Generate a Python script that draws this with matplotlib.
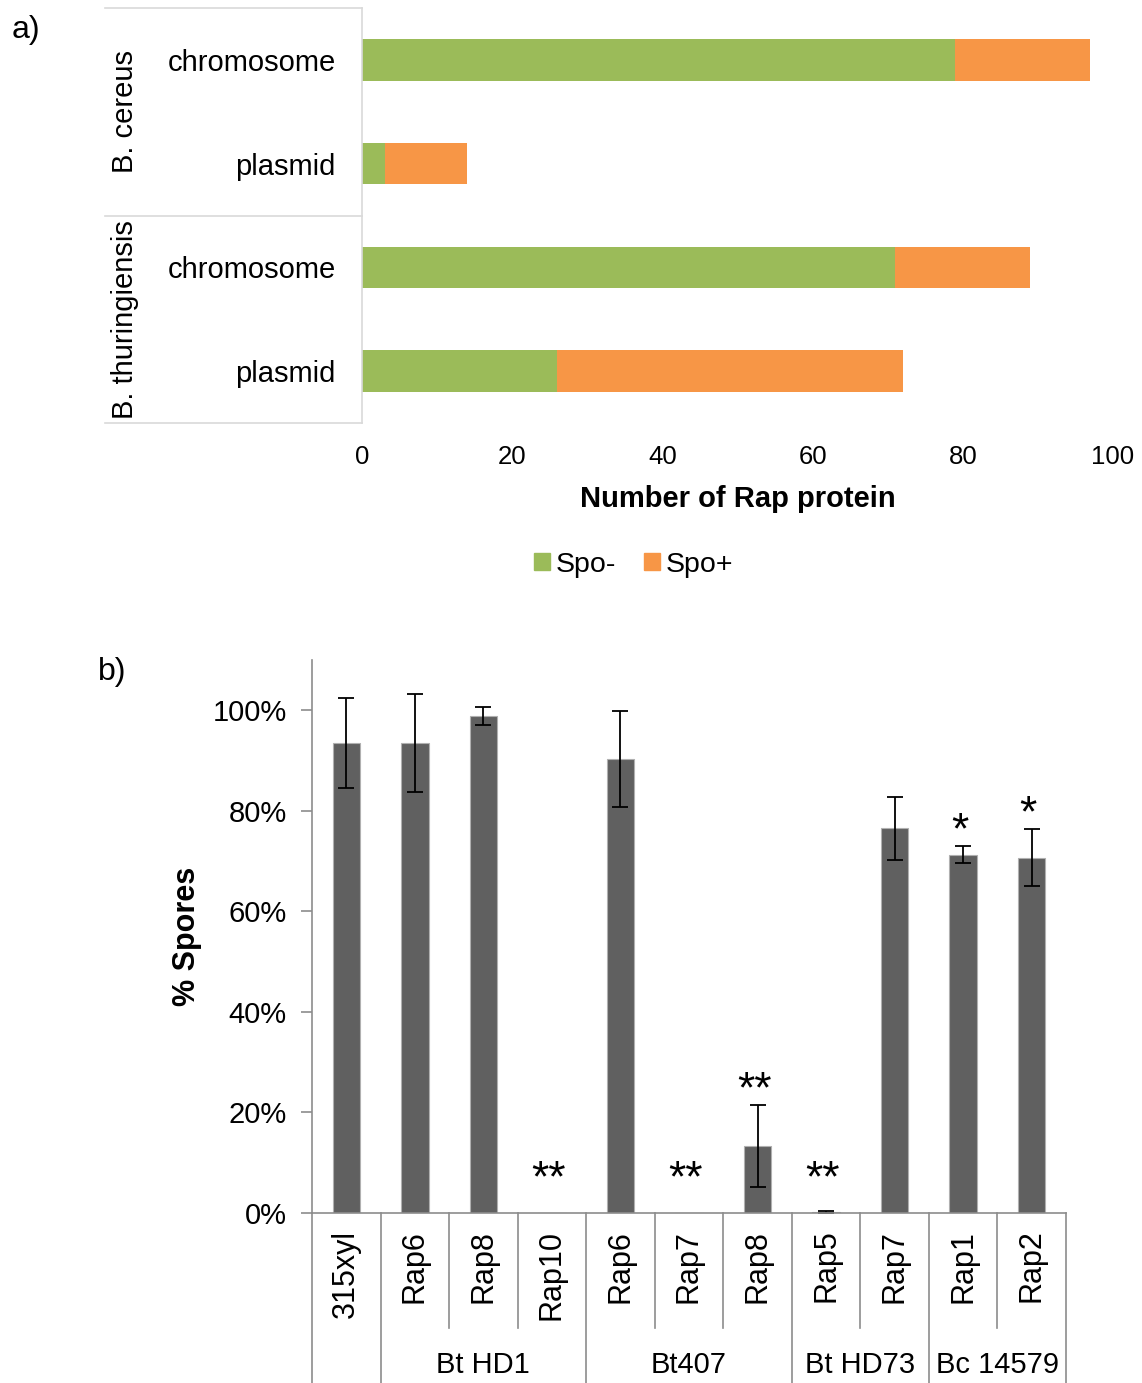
import numpy as np
import matplotlib.pyplot as plt
import matplotlib.transforms as mtransforms
from matplotlib.patches import Patch

plt.rcParams['font.family'] = ['Liberation Sans', 'DejaVu Sans']

# panel a: number of Rap proteins per replicon
species = ['B. cereus', 'B. thuringiensis']
locations = ['chromosome', 'plasmid', 'chromosome', 'plasmid']
spo_minus = [79, 3, 71, 26]
spo_plus = [18, 11, 18, 46]

# panel b: sporulation efficiency
strains = ['315xyl', 'Rap6', 'Rap8', 'Rap10', 'Rap6', 'Rap7', 'Rap8',
           'Rap5', 'Rap7', 'Rap1', 'Rap2']
groups = ['', 'Bt HD1', 'Bt407', 'Bt HD73', 'Bc 14579']
group_sizes = [1, 3, 3, 2, 2]
spores = [93.5, 93.5, 98.9, 0, 90.3, 0, 13.3, 0.3, 76.5, 71.3, 70.7]
spores_err = [8.9, 9.8, 1.8, 0, 9.5, 0, 8.1, 0.2, 6.3, 1.7, 5.6]
signif = ['', '', '', '**', '', '**', '**', '**', '', '*', '*']

green = '#9BBB59'
orange = '#F79646'
grid_gray = '#D9D9D9'
axis_gray = '#8C8C8C'

fig = plt.figure(figsize=(11.42, 13.83), dpi=100)

# ---------------- panel a ----------------
ax1 = fig.add_axes([0.317, 0.6941, 0.6576, 0.3001])
y = np.arange(len(locations))
ax1.barh(y, spo_minus, height=0.4, color=green, label='Spo-')
ax1.barh(y, spo_plus, left=spo_minus, height=0.4, color=orange, label='Spo+')
ax1.set_ylim(len(locations) - 0.5, -0.5)
ax1.set_xlim(0, 100)
ax1.set_xticks(np.arange(0, 101, 20))
ax1.set_yticks(y)
ax1.set_yticklabels(locations, fontsize=21)
ax1.tick_params(axis='y', length=0, pad=19)
ax1.tick_params(axis='x', length=0, pad=16, labelsize=18.5)
for s in ['top', 'right', 'bottom']:
    ax1.spines[s].set_visible(False)
ax1.spines['left'].set_color(grid_gray)
ax1.spines['left'].set_linewidth(1.2)
ax1.set_xlabel('Number of Rap protein', fontsize=21, fontweight='bold', labelpad=11)

# category box lines on the left
for yy in [0, 0.5, 1]:
    ax1.plot([-0.342, 0], [yy, yy], transform=ax1.transAxes, clip_on=False,
             color=grid_gray, lw=1.2)
trans1 = mtransforms.blended_transform_factory(ax1.transAxes, ax1.transData)
for i, sp in enumerate(species):
    ax1.text(-0.3156, 2 * i + 0.5, sp, rotation=90, ha='center', va='center',
             fontsize=21, transform=trans1)

handles = [Patch(color=green, label='Spo-'), Patch(color=orange, label='Spo+')]
fig.legend(handles=handles, loc='center', bbox_to_anchor=(0.555, 0.5915), ncol=2,
           frameon=False, fontsize=20.5, handlelength=0.55, handleheight=0.55,
           handletextpad=0.2, columnspacing=1.0)

fig.text(0.010, 0.978, 'a)', fontsize=23, va='center')
fig.text(0.086, 0.514, 'b)', fontsize=23, va='center')

# ---------------- panel b ----------------
ax2 = fig.add_axes([0.2732, 0.1229, 0.6602, 0.3999])
x = np.arange(len(strains))
vals = np.array(spores) / 100
errs = np.array(spores_err) / 100
ax2.bar(x, vals, width=0.4, color='#606060', edgecolor='#B0B0B0', linewidth=0.8)
has = vals > 0
ax2.errorbar(x[has], vals[has], yerr=errs[has], fmt='none', ecolor='black',
             elinewidth=1.3, capsize=6, capthick=1.3)
ax2.set_xlim(-0.5, len(strains) - 0.5)
ax2.set_ylim(0, 1.1)
ax2.set_yticks(np.arange(0, 1.01, 0.2))
ax2.set_yticklabels([f'{int(round(t * 100))}%' for t in np.arange(0, 1.01, 0.2)])
ax2.tick_params(axis='y', length=8, width=1.2, color=axis_gray, pad=10, labelsize=21)
ax2.set_xticks(x)
ax2.set_xticklabels(strains, rotation=90, va='top', fontsize=22)
ax2.tick_params(axis='x', length=0, pad=12)
for s in ['top', 'right']:
    ax2.spines[s].set_visible(False)
for s in ['left', 'bottom']:
    ax2.spines[s].set_color(axis_gray)
    ax2.spines[s].set_linewidth(1.2)

ax2.text(-0.166, 0.5, '% Spores', rotation=90, ha='center', va='center',
         fontsize=22, fontweight='bold', transform=ax2.transAxes)

for i, s in enumerate(signif):
    if s:
        top = (spores[i] + spores_err[i]) / 100
        ax2.text(i - 0.05, max(top + 0.006, 0.043), s, ha='center', va='baseline',
                 fontsize=32)

# category separators and group labels below the axis
trans2 = mtransforms.blended_transform_factory(ax2.transData, ax2.transAxes)
edges = np.cumsum([0] + group_sizes) - 0.5
for b in np.arange(-0.5, len(strains)):
    bottom = -0.307 if np.any(np.isclose(edges, b)) else -0.208
    ax2.plot([b, b], [0, bottom], transform=trans2, clip_on=False,
             color=axis_gray, lw=1.2)
for g, lo, n in zip(groups, edges[:-1], group_sizes):
    if g:
        ax2.text(lo + n / 2, -0.275, g, ha='center', va='center', fontsize=21,
                 transform=trans2)

fig.savefig('out.png', dpi=100)
